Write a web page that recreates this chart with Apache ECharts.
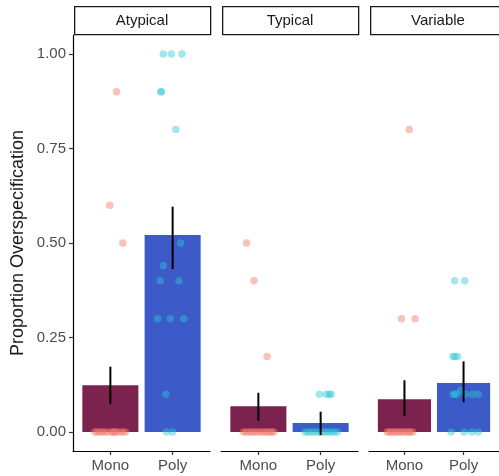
<!DOCTYPE html>
<html>
<head>
<meta charset="utf-8">
<script src="https://cdn.jsdelivr.net/npm/echarts@6/dist/echarts.min.js"></script>
<style>
html,body{margin:0;padding:0;background:#fff;}
#chart{width:499px;height:476px;}
</style>
</head>
<body>
<div id="chart"></div>
<script>
// ---- data ----
const facets = ['Atypical', 'Typical', 'Variable'];
const conditions = ['Mono', 'Poly'];
const yTicks = [0, 0.25, 0.5, 0.75, 1];

const monoMeans = [0.124, 0.068, 0.087];
const polyMeans = [0.521, 0.024, 0.130];
const monoLo = [0.074, 0.030, 0.042];
const monoHi = [0.173, 0.104, 0.137];
const polyLo = [0.431, -0.008, 0.079];
const polyHi = [0.596, 0.054, 0.187];

// individual participant proportions: [horizontal jitter, value]
const atypicalMonoPts = [[0.10,0.9],[-0.01,0.6],[0.20,0.5],
  [-0.25,0],[-0.21,0],[-0.17,0],[-0.13,0],[-0.09,0],[-0.05,0],[0.02,0],[0.04,0],[0.07,0],[0.10,0],[0.15,0],[0.20,0],[0.24,0]];
const atypicalPolyPts = [[-0.15,1],[-0.02,1],[0.15,1],[-0.19,0.9],[-0.18,0.9],[0.05,0.8],[0.13,0.5],[-0.15,0.44],
  [-0.20,0.4],[0.10,0.4],[-0.24,0.3],[-0.04,0.3],[0.18,0.3],[-0.11,0.1],[-0.10,0],[0.0,0]];
const typicalMonoPts = [[-0.19,0.5],[-0.07,0.4],[0.14,0.2],
  [-0.24,0],[-0.20,0],[-0.15,0],[-0.11,0],[-0.07,0],[-0.03,0],[0.02,0],[0.06,0],[0.10,0],[0.14,0],[0.18,0],[0.21,0],[0.25,0]];
const typicalPolyPts = [[-0.02,0.1],[0.09,0.1],[0.14,0.1],[0.17,0.1],
  [-0.25,0],[-0.20,0],[-0.15,0],[-0.10,0],[-0.05,0],[0.0,0],[0.05,0],[0.09,0],[0.13,0],[0.18,0],[0.22,0],[0.27,0]];
const variableMonoPts = [[0.08,0.8],[-0.05,0.3],[0.18,0.3],
  [-0.29,0],[-0.26,0],[-0.22,0],[-0.19,0],[-0.15,0],[-0.11,0],[-0.08,0],[-0.04,0],[0.0,0],[0.04,0],[0.07,0],[0.10,0],[0.14,0]];
const variablePolyPts = [[-0.15,0.4],[0.02,0.4],[-0.18,0.2],[-0.15,0.2],[-0.10,0.2],
  [-0.18,0.1],[-0.15,0.1],[-0.12,0.1],[-0.05,0.11],[0.03,0.1],[0.15,0.1],[0.25,0.1],
  [-0.21,0],[0.01,0],[0.14,0],[0.25,0]];

const monoPoints = [atypicalMonoPts, typicalMonoPts, variableMonoPts];
const polyPoints = [atypicalPolyPts, typicalPolyPts, variablePolyPts];

// ---- styling / layout ----
const monoBarColor = '#7C224F';
const polyBarColor = '#3C5AC8';
const monoPointColor = 'rgba(246,120,110,0.58)';
const polyPointColor = 'rgba(40,200,210,0.55)';
const panelLeft = [73, 221, 369];
const panelWidth = 137;
const panelTop = 35;
const panelHeight = 416;
const fontFamily = 'Liberation Sans, Arial, Helvetica, sans-serif';

const chart = echarts.init(document.getElementById('chart'));

const grids = [], xAxes = [], yAxes = [], series = [], graphics = [];

facets.forEach((f, i) => {
  grids.push({left: panelLeft[i], top: panelTop, width: panelWidth, height: panelHeight, containLabel: false});
  xAxes.push({
    type: 'value', gridIndex: i, min: 0.4, max: 2.6,
    splitLine: {show: false},
    axisLine: {show: true, onZero: false, lineStyle: {color: '#000', width: 1.2}},
    axisTick: {show: true, length: 4, customValues: [1, 2], lineStyle: {color: '#333', width: 1.2}},
    axisLabel: {show: true, customValues: [1, 2], margin: 7, color: '#4D4D4D', fontSize: 15, fontFamily,
      formatter: v => conditions[Math.round(v) - 1]}
  });
  yAxes.push({
    type: 'value', gridIndex: i, min: -0.05, max: 1.05,
    splitLine: {show: false},
    axisLine: {show: i === 0, onZero: false, lineStyle: {color: '#000', width: 1.2}},
    axisTick: {show: i === 0, length: 4, customValues: yTicks, lineStyle: {color: '#333', width: 1.2}},
    axisLabel: {show: i === 0, customValues: yTicks, margin: 7, color: '#4D4D4D', fontSize: 15, fontFamily,
      formatter: v => v.toFixed(2)},
    name: i === 0 ? 'Proportion Overspecification' : '',
    nameLocation: 'middle', nameRotate: 90, nameGap: 46,
    nameTextStyle: {fontSize: 18, color: '#1A1A1A', fontFamily}
  });

  // bars
  series.push({
    type: 'custom', xAxisIndex: i, yAxisIndex: i, z: 1,
    data: [[1, monoMeans[i], 0], [2, polyMeans[i], 1]],
    renderItem: (params, api) => {
      const x = api.value(0), v = api.value(1), c = api.value(2);
      const p1 = api.coord([x - 0.45, v]);
      const p2 = api.coord([x + 0.45, 0]);
      return {type: 'rect', shape: {x: p1[0], y: p1[1], width: p2[0] - p1[0], height: p2[1] - p1[1]},
        style: {fill: c === 0 ? monoBarColor : polyBarColor}};
    }
  });
  // points
  series.push({
    type: 'scatter', xAxisIndex: i, yAxisIndex: i, z: 2, symbolSize: 7.5,
    itemStyle: {color: monoPointColor}, silent: true,
    data: monoPoints[i].map(p => [1 + p[0], p[1]])
  });
  series.push({
    type: 'scatter', xAxisIndex: i, yAxisIndex: i, z: 2, symbolSize: 7.5,
    itemStyle: {color: polyPointColor}, silent: true,
    data: polyPoints[i].map(p => [2 + p[0], p[1]])
  });
  // error bars
  series.push({
    type: 'custom', xAxisIndex: i, yAxisIndex: i, z: 3,
    data: [[1, monoLo[i], monoHi[i]], [2, polyLo[i], polyHi[i]]],
    renderItem: (params, api) => {
      const x = api.value(0);
      const a = api.coord([x, api.value(1)]);
      const b = api.coord([x, api.value(2)]);
      return {type: 'line', shape: {x1: a[0], y1: a[1], x2: b[0], y2: b[1]},
        style: {stroke: '#000', lineWidth: 2}};
    }
  });

  // facet strip
  graphics.push({
    type: 'rect', left: panelLeft[i] + 1, top: 6,
    shape: {width: panelWidth - 1, height: 28},
    style: {fill: '#fff', stroke: '#1A1A1A', lineWidth: 1.3}
  });
  graphics.push({
    type: 'text', x: panelLeft[i] + 1 + (panelWidth - 1) / 2, y: 20.5,
    style: {text: f, fill: '#1A1A1A', font: '15px ' + fontFamily, textAlign: 'center', textVerticalAlign: 'middle'}
  });
});

chart.setOption({
  backgroundColor: '#fff',
  animation: false,
  grid: grids,
  xAxis: xAxes,
  yAxis: yAxes,
  series: series,
  graphic: graphics
});
</script>
</body>
</html>
